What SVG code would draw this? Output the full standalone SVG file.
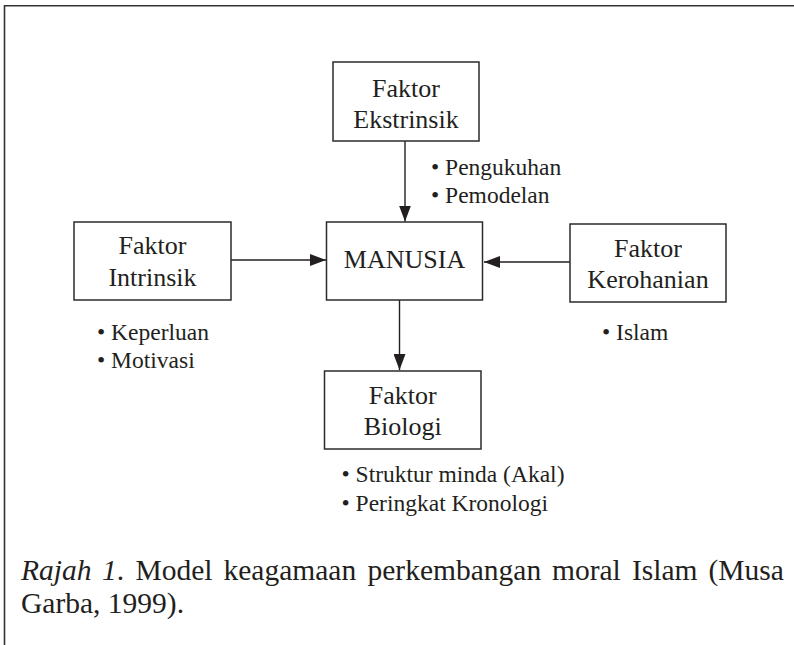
<svg xmlns="http://www.w3.org/2000/svg" width="794" height="645" viewBox="0 0 794 645" font-family="Liberation Serif, serif">
<style>
.box{fill:#fff;stroke:#2b2b2b;stroke-width:1.5}
.nt{font-size:26px;fill:#231f20;text-anchor:middle}
.bt{font-size:23.5px;fill:#231f20}
.cap{font-size:29.5px;fill:#231f20}
.edge{stroke:#231f20;stroke-width:1.4;fill:none;marker-end:url(#ah)}
.frame{stroke:#333;stroke-width:1.6;fill:none}
</style>
<defs>
<marker id="ah" markerUnits="userSpaceOnUse" markerWidth="16" markerHeight="12" refX="16" refY="6" orient="auto">
<path d="M0,0 L16,6 L0,12 z" fill="#231f20"/>
</marker>
</defs>
<rect width="794" height="645" fill="#fff"/>
<path class="frame" d="M4.5,645 L4.5,5.7 L794,5.7"/>
<g id="connectors">
<line class="edge" x1="405" y1="141" x2="405" y2="221.5"/>
<line class="edge" x1="231" y1="260" x2="326" y2="260"/>
<line class="edge" x1="570" y1="262" x2="484" y2="262"/>
<line class="edge" x1="399.5" y1="300" x2="399.5" y2="370"/>
</g>
<g id="ekstrinsik">
<rect class="box" x="333" y="62" width="146" height="79"/>
<text class="nt" x="406" y="97">Faktor</text>
<text class="nt" x="406" y="128">Ekstrinsik</text>
</g>
<g id="manusia">
<rect class="box" x="326.5" y="222" width="156" height="78"/>
<text class="nt" x="404.5" y="268">MANUSIA</text>
</g>
<g id="intrinsik">
<rect class="box" x="74" y="222" width="157" height="78"/>
<text class="nt" x="152.5" y="254">Faktor</text>
<text class="nt" x="152.5" y="285.7">Intrinsik</text>
</g>
<g id="kerohanian">
<rect class="box" x="570" y="224" width="156" height="78"/>
<text class="nt" x="648" y="256.7">Faktor</text>
<text class="nt" x="648" y="288.3">Kerohanian</text>
</g>
<g id="biologi">
<rect class="box" x="324.5" y="371" width="156.5" height="78"/>
<text class="nt" x="402.7" y="403.5">Faktor</text>
<text class="nt" x="402.7" y="435">Biologi</text>
</g>
<g id="list-ekstrinsik">
<text class="bt" x="431" y="174.7">• Pengukuhan</text>
<text class="bt" x="431" y="202.7">• Pemodelan</text>
</g>
<g id="list-intrinsik">
<text class="bt" x="97" y="340">• Keperluan</text>
<text class="bt" x="97" y="368">• Motivasi</text>
</g>
<g id="list-kerohanian">
<text class="bt" x="602" y="340">• Islam</text>
</g>
<g id="list-biologi">
<text class="bt" x="341.5" y="481.7">• Struktur minda (Akal)</text>
<text class="bt" x="341.5" y="511">• Peringkat Kronologi</text>
</g>
<g id="caption">
<text class="cap" y="580"><tspan x="21" font-style="italic">Rajah</tspan><tspan x="102" font-style="italic">1</tspan><tspan>.</tspan><tspan x="135.5">Model</tspan><tspan x="223.5">keagamaan</tspan><tspan x="367.5">perkembangan</tspan><tspan x="552">moral</tspan><tspan x="632">Islam</tspan><tspan x="708.5">(Musa</tspan></text>
<text class="cap" x="21" y="613">Garba, 1999).</text>
</g>
</svg>
